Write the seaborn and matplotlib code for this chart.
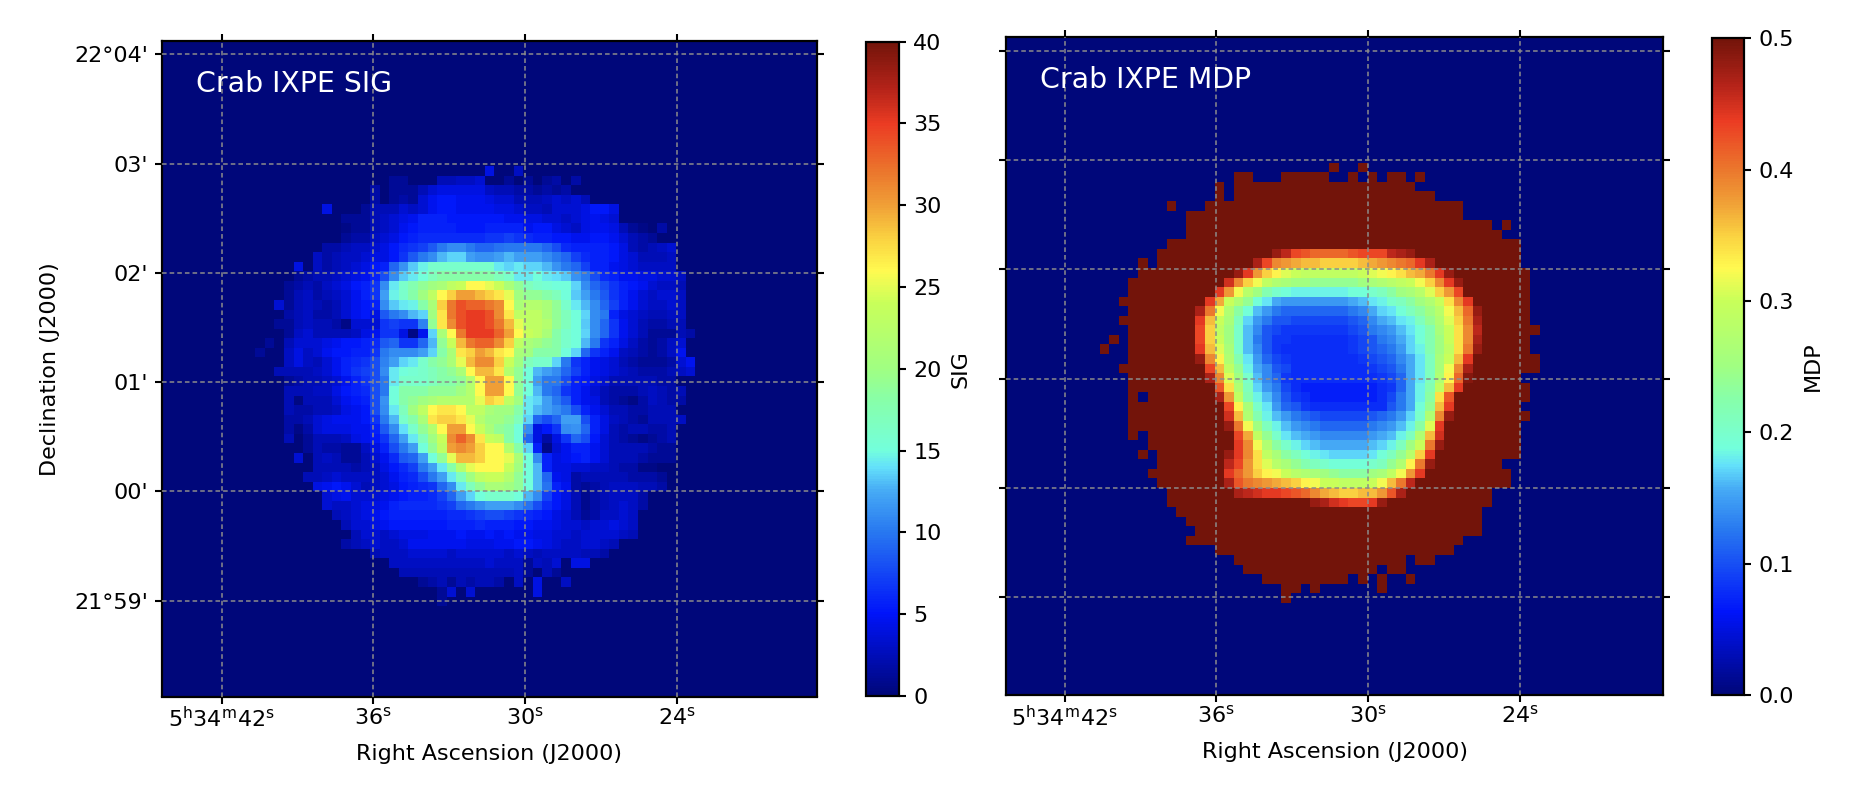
import numpy as np
import matplotlib
matplotlib.use('Agg')
import matplotlib.pyplot as plt
from matplotlib.colors import LinearSegmentedColormap
import seaborn as sns

# SIG map: (row, first column, values)
sig_rows = [
    (0, 24, [3.5, 0, 0, 2.5]),
    (1, 14, [1, 1, 0, 0, 0, 2, 2, 2.5, 2.5, 3, 0, 0, 1, 0, 1, 0, 1, 1.5, 0, 1.5]),
    (2, 12, [1.5, 0, 1, 1, 1, 2, 3, 3.5, 3.5, 3.5, 3.5, 3.5, 2.5, 2, 2, 1.5, 1.5, 1, 1.5, 1, 1.5]),
    (3, 12, [1.5, 0, 1, 1.5, 1, 3, 4, 4.5, 4.5, 4, 4, 4, 3.5, 3, 3, 2, 2, 2, 2.5, 3, 2.5, 3, 2]),
    (4, 7, [3.5, 0, 0, 0, 1, 2, 2, 2, 3, 2.5, 3, 4, 4.5, 4.5, 4, 4, 4, 4, 3.5, 3.5, 3, 2.5, 2.5, 2, 3, 3, 3, 3.5, 4.5, 4.5, 3.5]),
    (5, 9, [1, 1, 1, 2, 2.5, 3, 3.5, 4, 5, 5, 5, 4.5, 4.5, 4.5, 4.5, 4.5, 4.5, 4, 4, 3.5, 3.5, 3, 3, 2.5, 3, 3.5, 4, 3.5, 3]),
    (6, 9, [.5, 1, 1, 2, 2.5, 3, 4, 4.5, 5, 5, 5, 5, 4.5, 4.5, 4.5, 5, 5, 5, 5, 4, 4.5, 4.5, 3.5, 3, 2.5, 3.5, 4, 4, 3.5, 2, 1, .5, 0, 1.5]),
    (7, 9, [1, 1.5, 1.5, 2.5, 3, 3.5, 4.5, 5, 5.5, 5.5, 5.5, 5.5, 5.5, 5.5, 5.5, 6, 6, 6.5, 6, 5.5, 5, 5, 4.5, 4.5, 4, 4, 4.5, 4.5, 4, 3, 2, 1.5, 1]),
    (8, 7, [1.5, 1.5, 2, 2.5, 2.5, 3, 3.5, 4.5, 5.5, 6, 6.5, 7.5, 9, 10, 10, 9, 8, 8, 8.5, 9, 9, 9, 9, 8, 7, 5.5, 5, 5, 5, 5, 4.5, 3.5, 2, 1.5, 2, 2.5, 3]),
    (9, 6, [2.5, 1.5, 2, 2.5, 2.5, 3, 3.5, 3.5, 4.5, 6, 7.5, 9, 10, 12, 13, 13, 11, 10.5, 10.5, 11, 12, 11, 11, 11, 10, 9, 8, 6.5, 5.5, 5, 5, 4.5, 3.5, 3, 2, 2, 2, 2.5]),
    (10, 4, [3.5, 0, 2.5, 1.5, 2, 2.5, 3, 3.5, 4.5, 5, 8, 10.5, 12.5, 14.5, 16, 16, 16, 16, 16, 16, 16, 14, 13, 14, 13, 13, 12, 10.5, 9, 8, 6.5, 5, 5, 4, 3.5, 3, 2.5, 2.5, 2.5, 2.5]),
    (11, 4, [1, 1.5, 2, 2, 2.5, 3, 3.5, 4, 5, 7, 10, 12.5, 14, 15, 17, 18, 18, 18, 18, 18, 18, 17, 16, 14, 14, 15, 14, 13.5, 12.5, 10.5, 9, 7, 5.5, 5, 4, 4, 3.5, 3.5, 3, 3, 2.5]),
    (12, 3, [1, 1.5, 2, 1.5, 2.5, 3, 3.5, 4.5, 5, 6, 10, 14, 16, 17.5, 19, 20, 21, 23, 24, 26, 26, 25, 24, 21, 19, 17, 16, 15.5, 15, 15, 13, 10, 8, 7, 6, 5, 4.5, 4, 3, 2.5, 2.5, 2]),
    (13, 3, [1, 2, 2.5, 1.5, 2, 2.5, 3, 4, 5, 6, 11, 14.5, 16, 18, 20, 23, 26, 28, 30, 30, 29, 28, 27, 25, 20, 19, 19, 18, 17, 15, 12.5, 11, 9, 7.5, 6, 5, 4, 3, 2.5, 3, 3, 2.5]),
    (14, 2, [3, 1, 2, 2.5, 2, 1.5, 2, 3, 4, 4.5, 5, 10, 12.5, 14, 14.5, 18, 21, 28, 32, 34, 33, 33, 32, 31, 26, 21, 22, 22, 21, 19, 16, 14, 12, 10, 8, 6.5, 5, 4, 3, 2.5, 2.5, 3, 2.5]),
    (15, 3, [1.5, 2, 2.5, 1.5, 1.5, 2, 3, 4, 4.5, 3.5, 7.5, 9, 10, 12, 13, 20, 27, 32, 34, 35, 35, 34, 31, 27, 23, 23, 23, 21, 19, 17, 15, 13, 10, 9, 5, 3.5, 3, 2.5, 2, 2, 2.5, 2.5]),
    (16, 2, [1, 1, 2, 2.5, 2, 2, 1.5, .5, 3, 3, 3, 6, 6.5, 6, 6, 9.5, 19, 27, 31, 34, 35, 35, 34, 32, 29, 25, 23, 23, 22, 19, 17, 15, 12.5, 10, 8, 6, 4, 3, 2, 1.5, 1.5, 2, 2]),
    (17, 3, [1, 2.5, 3, 2, 2, 2, 2, 2.5, 3.5, 4, 6, 6, 3.5, .5, 4, 13, 21, 26, 32, 35, 35, 35, 33, 30, 26, 24, 23, 21, 18, 16, 15, 13, 10, 8, 6, 4, 3, 2, 1, 1, 1, 2, 1.5]),
    (18, 1, [1, 0, 2, 3, 3, 3, 3.5, 4, 4.5, 4.5, 5, 5.5, 7.5, 8, 6, 6, 8, 12, 19, 24, 29, 32, 33, 33, 31, 28, 23, 21, 20, 19, 18, 16, 15, 12, 9, 6, 5, 3.5, 2.5, 1.5, 1, 1.5, 2.5, 3]),
    (19, 0, [1, 0, 0, 2.5, 3.5, 2.5, 3, 4, 4.5, 4.5, 5, 5, 6, 9, 10, 10, 10, 11, 13, 18, 21, 27, 28, 30, 29, 27, 26, 21, 20, 18, 18, 18, 15, 13, 8, 6, 5, 4, 2.5, 2, 1.5, 1, 1.5, 2.5, 4]),
    (20, 3, [2.5, 3.5, 2.5, 2, 3, 4, 5, 5.5, 6, 7, 9.5, 11, 13, 14, 16, 18, 19, 21, 25, 29, 31, 31, 28, 24, 20, 17, 16, 16, 13, 9, 6, 5, 4, 3.5, 3, 2, 1.5, 1, 1, 1, 1.5, 3, 4]),
    (21, 2, [2, 2, 2, 2, 2.5, 3, 4, 5, 6, 6.5, 7, 10, 14, 15, 15.5, 16, 17, 18, 19, 21, 26, 29, 29, 27, 22, 19, 15, 12, 11, 10, 8, 6.5, 5, 4, 3.5, 3, 2.5, 2, 1.5, 1.5, 1.5, 2, 2.5, 3]),
    (22, 3, [1, 1.5, 2, 2, 2.5, 3, 4, 5, 6, 7, 9, 14, 16, 16, 16, 17, 18, 18, 19, 22, 26, 30, 30, 26, 19, 15, 11, 9, 9, 7, 5, 4.5, 3.5, 3, 2, 2, 2, 2, 2, 1.5, 1.5]),
    (23, 3, [2, 2, 2, 2.5, 2.5, 3.5, 4.5, 5, 5.5, 7, 9, 15, 18, 18, 18, 19, 19, 19, 20, 22, 26, 30, 30, 26, 19, 15, 12, 9, 8, 6, 5, 4, 3, 2, 1.5, 1.5, 1.5, 2, 2.5, 2, 1.5, 2]),
    (24, 3, [2, .3, 2, 2, 2, 3, 4, 4.5, 5, 7, 10.5, 15, 18, 19, 20, 21, 22, 22, 22, 22, 25, 28, 27, 23, 20, 14, 13, 11, 9, 7.5, 5, 4, 3.5, 2, 1.5, 1, .5, 1.5, 2.5, 2, 1.5, 1.5]),
    (25, 3, [2, 1.5, 1.5, 2, 2, 2.5, 3.5, 4, 4.5, 7, 10, 14, 17, 20, 23, 26, 27, 27, 26, 23, 23, 21, 20, 20, 18, 14, 12, 11, 10, 9, 7, 5, 4, 3, 2, 2, 1.5, 1.5, 2, 2, 2]),
    (26, 3, [1.5, 1.5, 2, 3, 3.5, 4, 4, 4, 4.5, 6, 9, 12, 16, 18, 21, 27, 28, 28, 27, 25, 22, 20, 20, 19, 17, 13, 8, 7, 8, 11, 11, 7, 5, 3.5, 2.5, 2, 1.5, 1, 2, 2, 2, 2.5]),
    (27, 3, [1.5, .5, 1.5, 3, 3.5, 3.5, 3.5, 4, 4, 5, 7.5, 10, 13.5, 16, 19, 22, 26, 30, 30, 26, 24, 21, 19, 18, 15, 10, 3.5, 4.5, 6, 10, 10.5, 8, 5, 3.5, 2, 1.5, 2, 2, 1.5, 1.5, 2]),
    (28, 3, [2, 0, 1, 2, 2, 2, 2.5, 3.5, 4, 4.5, 6, 8, 11, 14, 17, 20, 24, 31, 33, 31, 27, 24, 23, 18, 15, 8, 3.5, 1.5, 3.5, 6, 8, 7, 4.5, 3, 2, 1.5, 1, .5, 1, 1.5, 2]),
    (29, 5, [1, 2, 1.5, 1.5, 1, 1, 2.5, 3.5, 5, 7, 9, 11, 15, 19, 23, 30, 31, 30, 28, 26, 26, 22, 18, 13, 5, .5, 3, 4, 5, 5, 4, 3, 2, 2, 2, 2, 1.5, 1, 1]),
    (30, 4, [3, 0, 2, 2.5, 2, 1, 1, 2, 3, 4, 5.5, 7.5, 8, 11, 15, 19, 25, 29, 29, 28, 26, 26, 25, 21, 15, 10, 5, 3.5, 4, 4.5, 5, 4, 3, 2, 2, 2, 1.5, 1, 1, 1]),
    (31, 6, [2, 2, 2, 2, 1.5, 2, 2.5, 3.5, 4.5, 5.5, 6.5, 9, 11, 14, 18, 22, 25, 26, 26, 26, 24, 20, 15, 12, 5, 3.5, 3.5, 3, 3, 2.5, 2.5, 2, 1.5, 1.5, .5, .5]),
    (32, 5, [2, 2, 2.5, 3, 2.5, 2.5, 2.5, 2.5, 3, 4, 5, 5.5, 7, 9, 11, 14, 17, 20, 23, 24, 24, 22, 19, 15, 12, 8, 4, 3.5, 1.5, 2, 2, 2, 2, 2, 1.5, 1.5, 1.5, 1]),
    (33, 6, [3.5, 4, 4.5, 4, 3, 2, 2.5, 3, 3.5, 4.5, 5, 5.5, 6, 8, 10, 14, 17, 19, 21, 21, 20, 19, 15, 12, 8.5, 5, 4, 1.5, 1, 1.5, 2, 2.5, 2.5, 2.5, 2, 2, 1.5]),
    (34, 7, [3, 3.5, 4, 3, 3, 3, 3.5, 4, 4.5, 5, 5, 5.5, 6.5, 8, 11, 13, 15, 16, 16, 16, 15, 12, 10, 6.5, 4.5, 3.5, 2, .7, 1.5, 2, 2.5, 2.5, 2.5, 1.5]),
    (35, 7, [3, 2.5, 2.5, 3, 3.5, 3.5, 4, 5, 5.5, 5.5, 5.5, 5.5, 6, 6.5, 8, 9, 10, 11, 11, 11, 10, 8.5, 7, 5.5, 4.5, 3.5, 2, .7, 1.5, 2, 2.5, 3, 2.5, 1.5]),
    (36, 8, [2, 2.5, 3, 3.5, 4, 4.5, 5, 5, 5, 5, 5, 5, 5.5, 5.5, 6, 6.5, 7, 7, 6.5, 6, 5.5, 5, 4.5, 3.5, 3, 2, 1, 1.5, 2.5, 2.5, 3, 2.5]),
    (37, 9, [2, 3, 3, 3.5, 4, 4.5, 4.5, 4.5, 4.5, 4.5, 4.5, 5, 5, 5, 5.5, 5, 5, 5, 4.5, 4.5, 4, 4, 3.5, 3, 3, 2.5, 3, 3, 3.5, 3, 2.5]),
    (38, 10, [2, 3, 3, 2.5, 3, 3.5, 3.5, 3.5, 4, 4, 4, 4.5, 4, 4, 4.5, 4, 4.5, 4, 4, 3.5, 3.5, 3, 3, 2.5, 3, 3, 3, 3, 2.5, 2]),
    (39, 9, [1.5, 2, 2.5, 3, 2.5, 2.5, 3, 4, 4, 4, 4, 4, 4, 3.5, 3.5, 3.5, 4, 4, 4.5, 4.5, 4, 3.5, 3, 2.5, 2.5, 3, 3, 2.5, 2]),
    (40, 12, [2, 2.5, 2.5, 2.5, 3, 3, 3, 3, 2.5, 3, 3, 3, 3, 3, 2.5, 3, 2.5, 2, 2.5, 2.5, 2.5, 2.5, 2, 2, 1.5]),
    (41, 14, [2.5, 2.5, 2.5, 2.5, 2.5, 2.5, 2.5, 2.5, 2.5, 2.5, 3, 2.5, 2.5, 2.5, 1, 2.5, 2, 3, 0, 3.5, 3.5]),
    (42, 15, [2, 2, 2, 2, 2, 2, 2, 2, 2, 2, 2, 2, 2.5, 1, 0, 2, 1]),
    (43, 17, [1, 1.5, 2, 1, 2, 1.5, 2, 2, 1.5, 0, 2.5, 0, 3.5, 0, 0, 2.5]),
    (44, 19, [1, 3, 0, 3, 0, 0, 0, 0, 0, 0, 3.5]),
    (45, 19, [1]),
]
# my colour readings against the colorbar, low end
sig_read = [0, 2, 4.5, 6.5, 8.5, 10.5, 12.5, 15, 40]
sig_bar = [0, 2.4, 5.2, 7.2, 9.7, 11.4, 13.4, 15, 40]

# columns covered by the MDP map in each row, (first, last)
mdp_spans = [
    [(24, 24), (27, 27)],
    [(14, 15), (19, 23), (26, 26), (28, 28), (30, 31), (33, 33)],
    [(12, 12), (14, 32)],
    [(12, 12), (14, 34)],
    [(7, 7), (11, 37)],
    [(9, 37)],
    [(9, 40), (42, 42)],
    [(9, 41)],
    [(7, 43)],
    [(6, 43)],
    [(4, 4), (6, 43)],
    [(4, 44)],
    [(3, 44)],
    [(3, 44)],
    [(2, 44)],
    [(3, 44)],
    [(2, 44)],
    [(3, 45)],
    [(1, 1), (3, 44)],
    [(0, 0), (3, 44)],
    [(3, 45)],
    [(2, 45)],
    [(3, 43)],
    [(3, 44)],
    [(3, 3), (5, 44)],
    [(3, 43)],
    [(3, 44)],
    [(3, 43)],
    [(3, 3), (5, 43)],
    [(5, 43)],
    [(4, 4), (6, 43)],
    [(6, 41)],
    [(5, 42)],
    [(6, 42)],
    [(7, 40)],
    [(7, 40)],
    [(8, 39)],
    [(9, 39)],
    [(10, 39)],
    [(9, 37)],
    [(12, 36)],
    [(14, 31), (33, 34)],
    [(15, 28), (30, 31)],
    [(17, 25), (27, 27), (29, 29), (32, 32)],
    [(19, 20), (22, 22), (29, 29)],
    [(19, 19)],
]
mdp_saturated = 0.5

# inner part of the MDP map in hundredths: (row, first column, values)
mdp_ring = [
    (9, 18, [48, 46, 43, 42, 41, 41, 41, 41, 42, 43, 43, 43, 46, 47, 48]),
    (10, 16, [47, 43, 39, 38, 37, 36, 36, 35, 35, 35, 35, 36, 37, 38, 39, 40, 41, 44, 47]),
    (11, 14, [48, 44, 38, 35, 33, 31, 30, 29, 29, 29, 29, 29, 29, 30, 31, 32, 33, 34, 36, 37, 40, 44, 48]),
    (12, 13, [45, 39, 35, 32, 29, 27, 26, 25, 25, 24, 24, 24, 24, 24, 25, 26, 27, 28, 29, 30, 32, 35, 39, 44, 48]),
    (13, 12, [44, 38, 32, 28, 25, 22, 20, 19, 18, 18, 18, 18, 18, 18, 19, 19, 20, 21, 23, 25, 26, 28, 31, 35, 38, 43]),
    (14, 11, [44, 37, 30, 27, 24, 19, 17, 14, 13, 13, 13, 13, 13, 13, 13, 14, 15, 17, 18, 20, 21, 23, 25, 27, 30, 34, 39, 44]),
    (15, 10, [47, 40, 32, 27, 23, 19, 15, 13, 11, 10, 10, 10, 10, 10, 10, 10, 11, 12, 14, 16, 17, 19, 21, 23, 25, 28, 32, 36, 41, 48]),
    (16, 10, [44, 36, 30, 26, 21, 16, 13, 11, 9, 9, 8, 8, 8, 8, 8, 8, 9, 10, 12, 14, 15, 17, 18, 21, 24, 27, 31, 35, 40, 47]),
    (17, 10, [43, 35, 29, 25, 20, 15, 12, 9, 8, 7, 7, 7, 7, 7, 7, 7, 8, 9, 11, 12, 13, 15, 17, 19, 22, 26, 30, 34, 39, 46]),
    (18, 10, [43, 35, 30, 25, 20, 15, 11, 9, 7, 7, 6, 6, 6, 6, 6, 6, 7, 8, 9, 11, 12, 14, 16, 19, 22, 25, 30, 34, 39, 47]),
    (19, 10, [44, 36, 31, 26, 20, 15, 12, 9, 7, 6, 6, 6, 6, 6, 6, 6, 7, 8, 9, 10, 11, 13, 16, 18, 22, 25, 29, 34, 40, 48]),
    (20, 10, [48, 39, 33, 27, 22, 17, 13, 10, 8, 7, 6, 6, 6, 6, 6, 6, 6, 7, 8, 9, 10, 12, 14, 17, 21, 26, 30, 36, 44]),
    (21, 11, [43, 36, 29, 24, 18, 14, 12, 9, 8, 6, 6, 6, 6, 6, 6, 6, 6, 7, 8, 9, 11, 14, 17, 21, 26, 32, 39, 47]),
    (22, 11, [47, 39, 31, 25, 20, 15, 12, 10, 7, 6, 6, 6, 6, 6, 6, 6, 6, 6, 7, 8, 10, 14, 17, 21, 27, 33, 41, 49]),
    (23, 12, [42, 34, 27, 21, 16, 13, 11, 8, 6, 5, 5, 5, 5, 5, 5, 5, 5, 6, 7, 10, 14, 18, 22, 29, 36, 44]),
    (24, 12, [47, 38, 29, 22, 18, 15, 12, 9, 7, 6, 5, 5, 5, 5, 5, 5, 5, 6, 8, 11, 14, 18, 23, 34, 42]),
    (25, 13, [43, 33, 26, 20, 17, 13, 10, 9, 7, 6, 6, 6, 6, 6, 6, 6, 6, 9, 11, 14, 19, 24, 36, 44]),
    (26, 13, [45, 36, 27, 22, 18, 15, 13, 11, 10, 9, 8, 8, 8, 8, 8, 9, 10, 11, 13, 16, 20, 27, 39, 48]),
    (27, 13, [48, 40, 32, 25, 21, 18, 15, 13, 12, 11, 10, 10, 10, 10, 10, 11, 12, 13, 15, 18, 23, 31, 44]),
    (28, 14, [43, 37, 29, 24, 20, 17, 15, 14, 13, 12, 12, 12, 12, 12, 13, 14, 15, 18, 21, 27, 36, 45]),
    (29, 14, [44, 39, 32, 27, 23, 20, 18, 16, 15, 14, 14, 14, 14, 14, 15, 16, 18, 21, 25, 30, 40, 48]),
    (30, 13, [48, 44, 39, 34, 29, 26, 23, 21, 19, 18, 17, 16, 16, 16, 16, 17, 19, 21, 24, 28, 35, 44]),
    (31, 13, [46, 43, 38, 34, 31, 28, 26, 24, 22, 21, 20, 19, 19, 19, 19, 20, 21, 24, 27, 33, 40, 48]),
    (32, 13, [44, 41, 38, 35, 33, 32, 30, 28, 27, 26, 25, 24, 23, 23, 23, 25, 26, 29, 32, 38, 44]),
    (33, 13, [47, 42, 40, 39, 38, 37, 36, 35, 33, 32, 30, 30, 29, 29, 29, 30, 32, 36, 40, 46]),
    (34, 14, [47, 46, 45, 44, 44, 43, 42, 41, 39, 37, 36, 35, 35, 36, 36, 38, 42, 47]),
    (35, 22, [48, 47, 45, 44, 43, 43, 44, 48]),
]
mdp_read = [0, 5, 6, 7, 8, 9, 10, 11, 12, 14, 16, 19, 50]
mdp_bar = [0, 7, 8, 8.5, 9.5, 10.5, 11.5, 12.5, 13.5, 15.5, 17, 19, 50]

ra_ticks = [42, 36, 30, 24]
ra_labels = [r'$5^{h}34^{m}42^{s}$', r'$36^{s}$', r'$30^{s}$', r'$24^{s}$']
dec_ticks = [4, 3, 2, 1, 0, -1]
dec_labels = ["22°04'", "03'", "02'", "01'", "00'", "21°59'"]

# colormap
cmap_stops = [0, 0.125, 0.25, 0.3125, 0.35, 0.375, 0.45, 0.5, 0.6, 0.65, 0.7, 0.75, 0.8, 0.875, 0.93, 1]
cmap_colors = ['#00077a', '#0014fa', '#2878f0', '#46aaf5', '#64e1fa', '#73ffdc', '#87ffaa', '#a0ff82',
               '#c8ff5a', '#fffa50', '#fad241', '#f0a037', '#eb782d', '#eb3c23', '#b42319', '#73140a']
crab_cmap = LinearSegmentedColormap.from_list('crab', list(zip(cmap_stops, cmap_colors)), N=256)

N = 46
PAD = 15
CELL = 9.567  # px of one map cell


def build_sig():
    grid = np.zeros((N, N))
    for row, first, values in sig_rows:
        grid[row, first:first + len(values)] = values
    return np.interp(grid, sig_read, sig_bar)


def build_mdp():
    grid = np.zeros((N, N))
    for row, spans in enumerate(mdp_spans):
        for first, last in spans:
            grid[row, first:last + 1] = mdp_saturated
    for row, first, values in mdp_ring:
        grid[row, first:first + len(values)] = np.interp(values, mdp_read, mdp_bar) / 100
    return grid


W, H = 1862, 796
sns.set_theme(style='ticks', font='DejaVu Sans')
plt.rcParams['mathtext.default'] = 'regular'
FS = 16
fig = plt.figure(figsize=(W / 100, H / 100), dpi=100)


def px_axes(l, t, r, b):
    return fig.add_axes([l / W, 1 - b / H, (r - l) / W, (b - t) / H])


def draw_panel(grid, frame, cbar_box, origin, tick0, vmax, cbar_ticks, cbar_fmt, cbar_label, title, show_dec, label_x):
    l, t, r, b = frame
    ax = px_axes(l, t, r, b)
    cax = px_axes(*cbar_box)
    padded = np.pad(grid, PAD)
    sns.heatmap(padded, ax=ax, cbar_ax=cax, cmap=crab_cmap, vmin=0, vmax=vmax, square=False,
                xticklabels=False, yticklabels=False, cbar_kws={'ticks': cbar_ticks, 'format': cbar_fmt})

    x0, y0 = origin
    to_x = lambda px: (px - x0) / CELL + PAD
    to_y = lambda px: (px - y0) / CELL + PAD
    ax.set_xlim(to_x(l), to_x(r))
    ax.set_ylim(to_y(b), to_y(t))

    # sky coordinates to cells
    ra_step, dec_step = 151.7 / 6, 109.3
    xt = [to_x(tick0[0] + (42 - s) * ra_step) for s in ra_ticks]
    yt = [to_y(tick0[1] + (4 - m) * dec_step) for m in dec_ticks]
    ax.set_xticks(xt)
    ax.set_xticklabels(ra_labels, rotation=0, fontsize=FS)
    ax.set_yticks(yt)
    ax.set_yticklabels(dec_labels if show_dec else [], rotation=0, fontsize=FS)
    ax.tick_params(top=True, right=True, left=True, bottom=True, direction='out',
                   length=5, width=1.5, color='black', labelcolor='black')
    ax.tick_params(axis='x', pad=2)
    ax.tick_params(axis='y', pad=5)
    ax.grid(True, color='#8c8c8c', linestyle='--', linewidth=1.1, dashes=(3, 2))
    ax.set_axisbelow(False)
    for s in ax.spines.values():
        s.set_visible(True)
        s.set_linewidth(1.6)
        s.set_color('black')

    ax.set_xlabel('Right Ascension (J2000)', fontsize=FS, labelpad=9, color='black')
    if show_dec:
        ax.set_ylabel('Declination (J2000)', fontsize=FS, labelpad=10, color='black')
    ax.text(34 / (r - l), 1 - 43 / (b - t), title, transform=ax.transAxes, color='white', fontsize=20.4, va='center')

    cb = ax.collections[0].colorbar
    cb.outline.set_visible(True)
    cb.outline.set_linewidth(1.6)
    cb.outline.set_edgecolor('black')
    cax.tick_params(length=5, width=1.5, labelsize=FS, pad=5, color='black', labelcolor='black')
    fig.text(label_x / W, 1 - (t + b) / 2 / H, cbar_label, rotation=90, fontsize=FS, ha='center', va='center', color='black')
    return ax


draw_panel(build_sig(), (162, 41, 817, 696.5), (866, 41.7, 899.3, 696), (255.3, 166), (221.5, 54.3),
           40, [0, 5, 10, 15, 20, 25, 30, 35, 40], '%g', 'SIG', 'Crab IXPE SIG', True, 960)
draw_panel(build_mdp(), (1006, 37.3, 1663.3, 695), (1711.7, 38.3, 1744.3, 695), (1099.7, 162.7), (1064.7, 50.7),
           0.5, [0, 0.1, 0.2, 0.3, 0.4, 0.5], '%.1f', 'MDP', 'Crab IXPE MDP', False, 1812.7)

fig.savefig('out.png', dpi=100)
